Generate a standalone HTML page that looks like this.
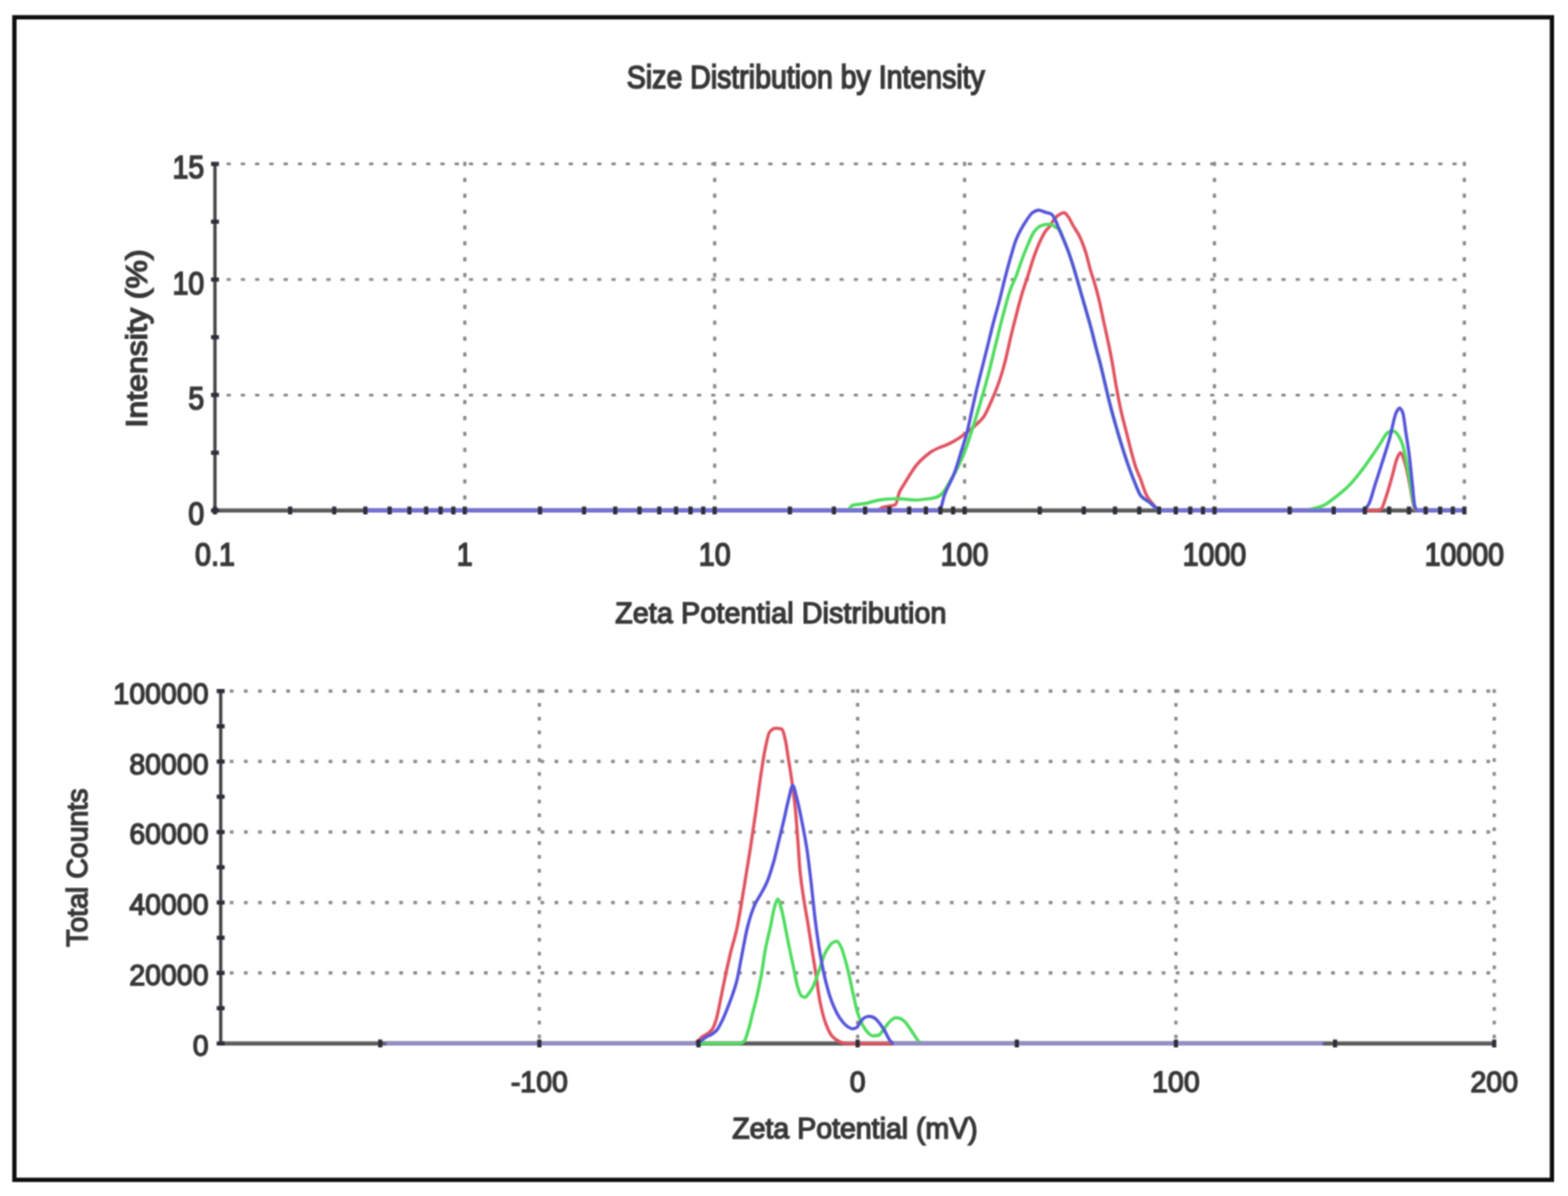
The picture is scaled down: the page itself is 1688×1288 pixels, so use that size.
<!DOCTYPE html>
<html><head><meta charset="utf-8"><title>Size and Zeta Potential Distribution</title>
<style>
html,body{margin:0;padding:0;background:#fff;width:1688px;height:1288px;overflow:hidden}
svg{display:block}
text{font-family:'Liberation Sans',Arial,sans-serif}
</style></head><body>
<svg width="1688" height="1288" viewBox="0 0 1688 1288" style="font-family:'Liberation Sans',Arial,sans-serif"><defs><filter id="soft" x="0" y="0" width="1688" height="1288" filterUnits="userSpaceOnUse" color-interpolation-filters="sRGB"><feConvolveMatrix order="3" kernelMatrix="1 2 1 2 4 2 1 2 1" divisor="16" edgeMode="duplicate" preserveAlpha="true"/></filter></defs><g filter="url(#soft)">
<rect x="0" y="0" width="1688" height="1288" fill="#fff"/>
<rect x="15.5" y="18.6" width="1655.2" height="1252" fill="none" stroke="#0d0d0d" stroke-width="4.6"/>
<line x1="243.96" y1="425.4" x2="1573.4" y2="425.4" stroke="#8a8a8a" stroke-width="3" stroke-dasharray="4.5 10.845"/>
<line x1="243.96" y1="301.0" x2="1573.4" y2="301.0" stroke="#8a8a8a" stroke-width="3" stroke-dasharray="4.5 10.845"/>
<line x1="243.96" y1="176.6" x2="1573.4" y2="176.6" stroke="#8a8a8a" stroke-width="3" stroke-dasharray="4.5 10.845"/>
<line x1="500.4" y1="174.35" x2="500.4" y2="546.8" stroke="#8a8a8a" stroke-width="3.5" stroke-dasharray="4.5 12.600"/>
<line x1="769.4" y1="174.35" x2="769.4" y2="546.8" stroke="#8a8a8a" stroke-width="3.5" stroke-dasharray="4.5 12.600"/>
<line x1="1038.4" y1="174.35" x2="1038.4" y2="546.8" stroke="#8a8a8a" stroke-width="3.5" stroke-dasharray="4.5 12.600"/>
<line x1="1307.4" y1="174.35" x2="1307.4" y2="546.8" stroke="#8a8a8a" stroke-width="3.5" stroke-dasharray="4.5 12.600"/>
<line x1="1576.4" y1="174.35" x2="1576.4" y2="546.8" stroke="#8a8a8a" stroke-width="3.5" stroke-dasharray="4.5 12.600"/>
<line x1="231.4" y1="175.6" x2="231.4" y2="550.8" stroke="#464646" stroke-width="3.6"/>
<line x1="231.4" y1="549.8" x2="1576.4" y2="549.8" stroke="#5c5c5c" stroke-width="4.4"/>
<path d="M393.4 549.8C576.9 549.8 760.5 549.8 944.0 549.8C946.0 549.8 948.0 547.1 950.0 546.5C952.7 545.7 955.3 545.6 958.0 545.0C960.0 544.6 962.0 544.5 964.0 543.5C965.4 542.8 966.9 533.2 968.3 530.0C970.1 525.9 972.0 523.7 973.8 520.6C975.9 517.2 977.9 513.7 980.0 510.5C982.3 506.9 984.7 503.2 987.0 500.4C989.6 497.3 992.1 494.9 994.7 492.6C997.3 490.3 999.9 488.0 1002.5 486.4C1005.1 484.8 1007.6 483.6 1010.2 482.5C1013.5 481.0 1016.7 480.1 1020.0 478.6C1022.4 477.5 1024.8 476.4 1027.2 475.0C1030.7 473.0 1034.2 470.6 1037.7 468.1C1041.2 465.6 1044.7 462.8 1048.2 459.7C1051.7 456.6 1055.2 453.9 1058.7 449.2C1061.5 445.5 1064.2 438.7 1067.0 432.5C1069.8 426.3 1072.6 419.5 1075.4 411.5C1077.5 405.5 1079.6 398.5 1081.7 390.6C1083.8 382.7 1085.9 372.0 1088.0 363.3C1090.1 354.6 1092.2 346.2 1094.3 338.2C1096.4 330.2 1098.5 322.1 1100.6 315.1C1102.7 308.2 1104.7 302.7 1106.8 296.3C1108.9 289.8 1111.0 282.2 1113.1 276.3C1115.3 270.1 1117.5 264.5 1119.7 259.8C1121.6 255.7 1123.6 251.7 1125.5 249.0C1127.2 246.6 1128.8 245.5 1130.5 243.2C1131.9 241.3 1133.2 238.2 1134.6 236.5C1136.3 234.4 1137.9 232.6 1139.6 231.6C1141.5 230.4 1143.5 229.1 1145.4 229.1C1147.1 229.1 1148.7 231.9 1150.4 234.0C1151.9 236.0 1153.5 239.8 1155.0 242.5C1157.5 246.9 1159.9 249.8 1162.4 254.9C1164.5 259.1 1166.5 264.6 1168.6 271.0C1170.3 276.1 1171.9 283.9 1173.6 289.7C1175.3 295.5 1176.9 300.0 1178.6 305.8C1180.2 311.5 1181.9 317.5 1183.5 324.4C1184.7 329.6 1186.0 336.1 1187.2 341.8C1188.5 347.7 1189.7 353.3 1191.0 359.2C1192.2 364.9 1193.5 370.4 1194.7 376.6C1195.7 381.8 1196.8 387.2 1197.8 393.0C1199.1 400.3 1200.4 409.2 1201.7 416.4C1203.4 426.0 1205.2 435.1 1206.9 442.8C1208.7 450.7 1210.4 456.9 1212.2 463.9C1214.0 470.9 1215.7 478.4 1217.5 485.0C1219.3 491.6 1221.0 498.4 1222.8 503.5C1224.6 508.6 1226.3 512.1 1228.1 516.7C1229.8 521.3 1231.6 527.5 1233.3 531.2C1234.4 533.5 1235.4 535.4 1236.5 537.0C1237.7 538.8 1238.8 540.2 1240.0 541.5C1243.1 544.8 1246.1 549.8 1249.2 549.8C1327.1 549.8 1405.1 549.8 1483.0 549.8C1484.3 549.8 1485.7 549.0 1487.0 548.0C1488.3 547.0 1489.7 542.1 1491.0 538.5C1493.4 532.0 1495.8 523.1 1498.2 514.8C1500.2 508.0 1502.1 497.7 1504.1 493.4C1505.3 490.8 1506.5 487.5 1507.7 487.5C1509.3 487.5 1510.8 493.5 1512.4 498.2C1514.0 503.0 1515.6 511.6 1517.2 519.5C1518.4 525.2 1519.5 533.1 1520.7 538.5C1521.6 542.8 1522.6 549.8 1523.5 549.8C1541.1 549.8 1558.8 549.8 1576.4 549.8" fill="none" stroke="#e05462" stroke-width="3.5" stroke-linejoin="round" stroke-linecap="round"/>
<path d="M393.4 549.8C566.2 549.8 739.1 549.8 912.0 549.8C914.0 549.8 916.0 544.5 918.0 544.0C922.3 542.9 926.7 543.0 931.0 542.3C936.2 541.4 941.4 539.0 946.6 538.4C953.1 537.6 959.5 536.9 966.0 536.9C972.5 536.9 978.9 538.4 985.4 538.4C990.6 538.4 995.8 537.6 1001.0 536.9C1003.3 536.6 1005.7 536.2 1008.0 535.5C1009.5 535.0 1011.1 534.1 1012.6 533.0C1016.8 529.9 1020.9 521.4 1025.1 514.2C1029.0 507.6 1032.8 500.3 1036.7 491.1C1039.8 483.7 1043.0 473.5 1046.1 463.9C1048.9 455.3 1051.7 446.1 1054.5 436.7C1057.3 427.3 1060.1 417.8 1062.9 407.3C1065.7 396.9 1068.4 384.9 1071.2 373.8C1074.0 362.6 1076.8 350.7 1079.6 340.3C1082.4 329.9 1085.2 318.7 1088.0 311.0C1090.0 305.5 1092.0 302.2 1094.0 297.1C1095.9 292.1 1097.9 285.7 1099.8 280.5C1102.0 274.6 1104.2 268.9 1106.4 263.9C1108.6 258.8 1110.9 252.6 1113.1 249.8C1115.6 246.7 1118.0 244.2 1120.5 243.2C1122.3 242.5 1124.2 242.0 1126.0 241.8C1127.8 241.6 1129.5 241.5 1131.3 241.5C1133.0 241.5 1134.6 243.9 1136.3 244.8C1137.5 245.5 1138.8 245.6 1140.0 246.5C1141.7 247.7 1143.3 254.0 1145.0 258.0C1146.7 262.0 1148.3 266.0 1150.0 270.5C1151.7 275.0 1153.3 280.2 1155.0 285.5C1156.6 290.7 1158.3 296.5 1159.9 302.1C1161.6 307.8 1163.2 313.7 1164.9 319.5C1166.6 325.3 1168.2 331.0 1169.9 336.8C1171.5 342.5 1173.2 348.1 1174.8 354.2C1176.5 360.5 1178.1 367.7 1179.8 374.1C1181.4 380.3 1183.0 385.7 1184.6 392.0C1186.3 398.9 1188.1 406.7 1189.8 414.0C1191.6 421.4 1193.3 429.1 1195.1 436.0C1197.3 444.5 1199.5 452.3 1201.7 460.0C1203.9 467.7 1206.1 475.0 1208.3 482.0C1210.5 489.0 1212.7 495.8 1214.9 502.0C1217.1 508.2 1219.3 514.0 1221.5 519.3C1223.7 524.6 1225.9 531.2 1228.1 533.8C1231.6 537.9 1235.1 539.1 1238.6 541.8C1242.1 544.5 1245.7 549.8 1249.2 549.8C1301.5 549.8 1353.7 549.8 1406.0 549.8C1407.7 549.8 1409.3 549.0 1411.0 548.5C1415.6 547.2 1420.2 546.3 1424.8 544.4C1428.8 542.7 1432.7 539.1 1436.7 536.1C1441.4 532.5 1446.2 528.9 1450.9 524.3C1455.6 519.7 1460.4 513.7 1465.1 507.7C1469.1 502.6 1473.0 496.9 1477.0 491.1C1480.1 486.5 1483.3 481.6 1486.4 476.9C1488.8 473.3 1491.1 467.9 1493.5 466.2C1495.0 465.1 1496.5 464.0 1498.0 464.0C1499.3 464.0 1500.7 464.4 1502.0 465.0C1503.3 465.6 1504.7 467.9 1506.0 470.0C1507.3 472.1 1508.7 475.0 1510.0 479.0C1512.4 486.2 1514.8 502.3 1517.2 514.8C1519.2 525.0 1521.1 544.0 1523.1 547.0C1524.1 548.5 1525.0 549.8 1526.0 549.8C1542.8 549.8 1559.6 549.8 1576.4 549.8" fill="none" stroke="#50dc60" stroke-width="3.5" stroke-linejoin="round" stroke-linecap="round"/>
<path d="M393.4 549.8C598.6 549.8 803.8 549.8 1009.0 549.8C1010.2 549.8 1011.4 548.5 1012.6 547.0C1014.0 545.3 1015.4 536.8 1016.8 533.0C1020.3 523.5 1023.7 519.1 1027.2 510.0C1029.7 503.6 1032.1 494.8 1034.6 486.9C1036.7 480.1 1038.8 474.0 1040.9 466.0C1042.6 459.4 1044.4 450.7 1046.1 443.0C1047.8 435.3 1049.6 427.2 1051.3 419.9C1053.1 412.5 1054.8 405.9 1056.6 398.9C1058.7 390.6 1060.8 382.2 1062.9 373.8C1065.0 365.5 1067.0 356.7 1069.1 348.7C1071.2 340.6 1073.3 333.6 1075.4 325.6C1077.9 316.2 1080.3 305.4 1082.8 296.0C1084.6 289.1 1086.4 282.5 1088.2 276.3C1089.9 270.5 1091.5 264.2 1093.2 259.8C1095.1 254.7 1097.1 250.9 1099.0 247.3C1101.2 243.2 1103.4 239.6 1105.6 236.5C1107.5 233.7 1109.5 230.4 1111.4 229.1C1113.6 227.6 1115.8 226.2 1118.0 226.2C1120.5 226.2 1123.0 227.9 1125.5 228.7C1127.7 229.4 1129.9 229.5 1132.1 230.7C1133.5 231.5 1134.9 234.7 1136.3 237.4C1137.5 239.8 1138.8 243.6 1140.0 246.5C1141.7 250.5 1143.3 254.0 1145.0 258.0C1146.7 262.0 1148.3 266.0 1150.0 270.5C1151.7 275.0 1153.3 280.2 1155.0 285.5C1156.6 290.7 1158.3 296.5 1159.9 302.1C1161.6 307.8 1163.2 313.7 1164.9 319.5C1166.6 325.3 1168.2 331.0 1169.9 336.8C1171.5 342.5 1173.2 348.1 1174.8 354.2C1176.5 360.5 1178.1 367.7 1179.8 374.1C1181.4 380.3 1183.0 385.7 1184.6 392.0C1186.3 398.9 1188.1 406.7 1189.8 414.0C1191.6 421.4 1193.3 429.1 1195.1 436.0C1197.3 444.5 1199.5 452.3 1201.7 460.0C1203.9 467.7 1206.1 475.0 1208.3 482.0C1210.5 489.0 1212.7 495.8 1214.9 502.0C1217.1 508.2 1219.3 514.0 1221.5 519.3C1223.7 524.6 1225.9 531.2 1228.1 533.8C1231.6 537.9 1235.1 539.1 1238.6 541.8C1242.1 544.5 1245.7 549.8 1249.2 549.8C1321.1 549.8 1393.1 549.8 1465.0 549.8C1466.5 549.8 1468.0 548.9 1469.5 548.0C1470.8 547.2 1472.1 545.4 1473.4 543.2C1475.6 539.5 1477.8 529.8 1480.0 523.0C1482.1 516.4 1484.3 509.8 1486.4 503.0C1489.6 492.8 1492.8 483.4 1496.0 472.0C1498.3 463.7 1500.7 449.1 1503.0 444.5C1504.2 442.2 1505.4 439.5 1506.6 439.5C1507.7 439.5 1508.9 441.5 1510.0 444.0C1511.2 446.5 1512.3 458.4 1513.5 466.0C1514.7 474.0 1516.0 481.3 1517.2 491.0C1518.3 499.7 1519.4 512.0 1520.5 522.0C1521.4 529.9 1522.2 542.6 1523.1 545.0C1524.1 547.7 1525.0 549.8 1526.0 549.8C1542.8 549.8 1559.6 549.8 1576.4 549.8" fill="none" stroke="#5656da" stroke-width="3.5" stroke-linejoin="round" stroke-linecap="round"/>
<line x1="393.4" y1="549.8" x2="1010.0" y2="549.8" stroke="#7472d6" stroke-width="4.6"/>
<line x1="1249.0" y1="549.8" x2="1466.0" y2="549.8" stroke="#7472d6" stroke-width="4.6"/>
<line x1="1525.0" y1="549.8" x2="1576.4" y2="549.8" stroke="#7472d6" stroke-width="4.6"/>
<rect x="227.2" y="547.5" width="8.5" height="4.5" fill="#2e2e3a"/>
<rect x="227.2" y="485.3" width="8.5" height="4.5" fill="#2e2e3a"/>
<rect x="227.2" y="423.1" width="8.5" height="4.5" fill="#2e2e3a"/>
<rect x="227.2" y="360.9" width="8.5" height="4.5" fill="#2e2e3a"/>
<rect x="227.2" y="298.8" width="8.5" height="4.5" fill="#2e2e3a"/>
<rect x="227.2" y="236.5" width="8.5" height="4.5" fill="#2e2e3a"/>
<rect x="227.2" y="174.3" width="8.5" height="4.5" fill="#2e2e3a"/>
<rect x="229.2" y="545.5" width="4.5" height="8.5" fill="#2e2e3a"/>
<rect x="310.1" y="545.5" width="4.5" height="8.5" fill="#2e2e3a"/>
<rect x="357.5" y="545.5" width="4.5" height="8.5" fill="#2e2e3a"/>
<rect x="391.1" y="545.5" width="4.5" height="8.5" fill="#2e2e3a"/>
<rect x="417.2" y="545.5" width="4.5" height="8.5" fill="#2e2e3a"/>
<rect x="438.5" y="545.5" width="4.5" height="8.5" fill="#2e2e3a"/>
<rect x="456.5" y="545.5" width="4.5" height="8.5" fill="#2e2e3a"/>
<rect x="472.1" y="545.5" width="4.5" height="8.5" fill="#2e2e3a"/>
<rect x="485.8" y="545.5" width="4.5" height="8.5" fill="#2e2e3a"/>
<rect x="498.1" y="545.5" width="4.5" height="8.5" fill="#2e2e3a"/>
<rect x="579.1" y="545.5" width="4.5" height="8.5" fill="#2e2e3a"/>
<rect x="626.5" y="545.5" width="4.5" height="8.5" fill="#2e2e3a"/>
<rect x="660.1" y="545.5" width="4.5" height="8.5" fill="#2e2e3a"/>
<rect x="686.2" y="545.5" width="4.5" height="8.5" fill="#2e2e3a"/>
<rect x="707.5" y="545.5" width="4.5" height="8.5" fill="#2e2e3a"/>
<rect x="725.5" y="545.5" width="4.5" height="8.5" fill="#2e2e3a"/>
<rect x="741.1" y="545.5" width="4.5" height="8.5" fill="#2e2e3a"/>
<rect x="754.8" y="545.5" width="4.5" height="8.5" fill="#2e2e3a"/>
<rect x="767.1" y="545.5" width="4.5" height="8.5" fill="#2e2e3a"/>
<rect x="848.1" y="545.5" width="4.5" height="8.5" fill="#2e2e3a"/>
<rect x="895.5" y="545.5" width="4.5" height="8.5" fill="#2e2e3a"/>
<rect x="929.1" y="545.5" width="4.5" height="8.5" fill="#2e2e3a"/>
<rect x="955.2" y="545.5" width="4.5" height="8.5" fill="#2e2e3a"/>
<rect x="976.5" y="545.5" width="4.5" height="8.5" fill="#2e2e3a"/>
<rect x="994.5" y="545.5" width="4.5" height="8.5" fill="#2e2e3a"/>
<rect x="1010.1" y="545.5" width="4.5" height="8.5" fill="#2e2e3a"/>
<rect x="1023.8" y="545.5" width="4.5" height="8.5" fill="#2e2e3a"/>
<rect x="1036.2" y="545.5" width="4.5" height="8.5" fill="#2e2e3a"/>
<rect x="1117.1" y="545.5" width="4.5" height="8.5" fill="#2e2e3a"/>
<rect x="1164.5" y="545.5" width="4.5" height="8.5" fill="#2e2e3a"/>
<rect x="1198.1" y="545.5" width="4.5" height="8.5" fill="#2e2e3a"/>
<rect x="1224.2" y="545.5" width="4.5" height="8.5" fill="#2e2e3a"/>
<rect x="1245.5" y="545.5" width="4.5" height="8.5" fill="#2e2e3a"/>
<rect x="1263.5" y="545.5" width="4.5" height="8.5" fill="#2e2e3a"/>
<rect x="1279.1" y="545.5" width="4.5" height="8.5" fill="#2e2e3a"/>
<rect x="1292.8" y="545.5" width="4.5" height="8.5" fill="#2e2e3a"/>
<rect x="1305.2" y="545.5" width="4.5" height="8.5" fill="#2e2e3a"/>
<rect x="1386.1" y="545.5" width="4.5" height="8.5" fill="#2e2e3a"/>
<rect x="1433.5" y="545.5" width="4.5" height="8.5" fill="#2e2e3a"/>
<rect x="1467.1" y="545.5" width="4.5" height="8.5" fill="#2e2e3a"/>
<rect x="1493.2" y="545.5" width="4.5" height="8.5" fill="#2e2e3a"/>
<rect x="1514.5" y="545.5" width="4.5" height="8.5" fill="#2e2e3a"/>
<rect x="1532.5" y="545.5" width="4.5" height="8.5" fill="#2e2e3a"/>
<rect x="1548.1" y="545.5" width="4.5" height="8.5" fill="#2e2e3a"/>
<rect x="1561.8" y="545.5" width="4.5" height="8.5" fill="#2e2e3a"/>
<rect x="1574.2" y="545.5" width="4.5" height="8.5" fill="#2e2e3a"/>
<text transform="translate(867.5 94.5) scale(1 1.125)" text-anchor="middle" font-size="30.7" fill="#383838" stroke="#383838" stroke-width="1.50">Size Distribution by Intensity</text>
<text transform="translate(219.8 565.3) scale(1 1.125)" text-anchor="end" font-size="30.7" fill="#383838" stroke="#383838" stroke-width="1.50">0</text>
<text transform="translate(219.8 440.9) scale(1 1.125)" text-anchor="end" font-size="30.7" fill="#383838" stroke="#383838" stroke-width="1.50">5</text>
<text transform="translate(219.8 316.5) scale(1 1.125)" text-anchor="end" font-size="30.7" fill="#383838" stroke="#383838" stroke-width="1.50">10</text>
<text transform="translate(219.8 192.1) scale(1 1.125)" text-anchor="end" font-size="30.7" fill="#383838" stroke="#383838" stroke-width="1.50">15</text>
<text transform="translate(231.4 608.5) scale(1 1.125)" text-anchor="middle" font-size="30.7" fill="#383838" stroke="#383838" stroke-width="1.50">0.1</text>
<text transform="translate(500.4 608.5) scale(1 1.125)" text-anchor="middle" font-size="30.7" fill="#383838" stroke="#383838" stroke-width="1.50">1</text>
<text transform="translate(769.4 608.5) scale(1 1.125)" text-anchor="middle" font-size="30.7" fill="#383838" stroke="#383838" stroke-width="1.50">10</text>
<text transform="translate(1038.4 608.5) scale(1 1.125)" text-anchor="middle" font-size="30.7" fill="#383838" stroke="#383838" stroke-width="1.50">100</text>
<text transform="translate(1307.4 608.5) scale(1 1.125)" text-anchor="middle" font-size="30.7" fill="#383838" stroke="#383838" stroke-width="1.50">1000</text>
<text transform="translate(1576.4 608.5) scale(1 1.125)" text-anchor="middle" font-size="30.7" fill="#383838" stroke="#383838" stroke-width="1.50">10000</text>
<text transform="translate(157.5 364.5) scale(1 1.125) rotate(-90)" text-anchor="middle" font-size="30.7" fill="#383838" stroke="#383838" stroke-width="1.50">Intensity (%)</text>
<line x1="247.40" y1="1047.8" x2="1605.6" y2="1047.8" stroke="#8a8a8a" stroke-width="3.5" stroke-dasharray="4 11.200"/>
<line x1="247.40" y1="971.9" x2="1605.6" y2="971.9" stroke="#8a8a8a" stroke-width="3.5" stroke-dasharray="4 11.200"/>
<line x1="247.40" y1="896.0" x2="1605.6" y2="896.0" stroke="#8a8a8a" stroke-width="3.5" stroke-dasharray="4 11.200"/>
<line x1="247.40" y1="820.1" x2="1605.6" y2="820.1" stroke="#8a8a8a" stroke-width="3.5" stroke-dasharray="4 11.200"/>
<line x1="247.40" y1="744.2" x2="1605.6" y2="744.2" stroke="#8a8a8a" stroke-width="3.5" stroke-dasharray="4 11.200"/>
<line x1="580.6" y1="742.20" x2="580.6" y2="1120.7" stroke="#8a8a8a" stroke-width="3.5" stroke-dasharray="4 10.880"/>
<line x1="923.3" y1="742.20" x2="923.3" y2="1120.7" stroke="#8a8a8a" stroke-width="3.5" stroke-dasharray="4 10.880"/>
<line x1="1265.9" y1="742.20" x2="1265.9" y2="1120.7" stroke="#8a8a8a" stroke-width="3.5" stroke-dasharray="4 10.880"/>
<line x1="1608.6" y1="742.20" x2="1608.6" y2="1120.7" stroke="#8a8a8a" stroke-width="3.5" stroke-dasharray="4 10.880"/>
<line x1="237.6" y1="743.2" x2="237.6" y2="1124.7" stroke="#464646" stroke-width="3.6"/>
<line x1="237.6" y1="1123.7" x2="1608.6" y2="1123.7" stroke="#5c5c5c" stroke-width="4.4"/>
<path d="M416.2 1123.7C526.1 1123.7 636.1 1123.7 746.0 1123.7C747.9 1123.7 749.7 1122.2 751.6 1121.0C753.1 1120.0 754.5 1117.6 756.0 1116.5C758.0 1115.0 760.0 1114.5 762.0 1113.0C763.7 1111.8 765.3 1110.4 767.0 1108.0C768.3 1106.1 769.7 1102.3 771.0 1098.0C772.3 1093.7 773.7 1086.3 775.0 1080.0C776.3 1073.7 777.7 1066.4 779.0 1060.0C781.3 1048.8 783.7 1037.8 786.0 1028.0C788.5 1017.4 791.1 1010.4 793.6 998.6C796.0 987.6 798.3 971.7 800.7 957.5C803.1 943.1 805.5 928.4 807.9 912.9C809.7 901.5 811.4 889.5 813.2 877.1C815.0 864.5 816.8 849.8 818.6 837.9C820.4 826.2 822.1 813.9 823.9 805.7C825.4 798.7 826.9 790.3 828.4 788.5C830.5 786.0 832.5 784.3 834.6 784.3C837.0 784.3 839.4 784.6 841.8 785.2C843.0 785.5 844.2 791.7 845.4 796.8C846.6 801.7 847.7 810.9 848.9 818.2C850.1 825.7 851.3 832.9 852.5 841.4C853.7 849.9 854.9 858.2 856.1 870.0C857.0 878.9 857.9 892.1 858.8 903.9C859.7 915.3 860.5 931.1 861.4 939.6C862.6 951.4 863.8 958.4 865.0 966.4C866.8 978.4 868.6 987.4 870.4 998.6C871.8 1007.3 873.2 1016.7 874.6 1025.6C875.9 1033.8 877.2 1041.5 878.5 1050.0C879.9 1058.9 881.2 1071.2 882.6 1078.0C884.8 1089.0 887.0 1097.3 889.2 1103.0C891.4 1108.7 893.7 1113.6 895.9 1116.0C898.7 1119.0 901.4 1120.9 904.2 1122.0C906.1 1122.8 908.1 1123.7 910.0 1123.7C1081.2 1123.7 1252.4 1123.7 1423.6 1123.7" fill="none" stroke="#e05462" stroke-width="3.5" stroke-linejoin="round" stroke-linecap="round"/>
<path d="M416.2 1123.7C543.1 1123.7 670.1 1123.7 797.0 1123.7C798.4 1123.7 799.9 1122.5 801.3 1121.0C802.9 1119.4 804.4 1113.1 806.0 1108.0C807.5 1103.1 809.0 1095.9 810.5 1090.0C811.9 1084.6 813.2 1079.9 814.6 1074.0C816.3 1066.8 817.9 1059.1 819.6 1050.0C821.1 1041.9 822.5 1029.7 824.0 1022.0C825.8 1012.7 827.5 1006.8 829.3 998.6C830.7 992.1 832.1 982.7 833.5 978.0C834.8 973.7 836.0 968.2 837.3 968.2C838.7 968.2 840.1 975.0 841.5 980.0C842.8 984.6 844.1 992.2 845.4 998.6C846.9 1006.1 848.5 1014.5 850.0 1022.0C851.5 1029.3 853.0 1035.9 854.5 1043.0C855.8 1049.3 857.2 1057.6 858.5 1062.0C859.9 1066.6 861.3 1071.6 862.7 1072.5C864.0 1073.4 865.2 1074.0 866.5 1074.0C867.8 1074.0 869.2 1071.6 870.5 1070.0C871.9 1068.4 873.2 1066.4 874.6 1063.9C876.1 1061.2 877.5 1056.9 879.0 1053.0C880.5 1049.1 881.9 1044.6 883.4 1040.3C884.8 1036.3 886.1 1031.0 887.5 1028.0C889.1 1024.5 890.7 1021.9 892.3 1019.7C893.7 1017.8 895.1 1015.6 896.5 1015.0C898.0 1014.3 899.6 1013.8 901.1 1013.8C902.6 1013.8 904.0 1017.2 905.5 1020.0C907.0 1022.9 908.5 1028.8 910.0 1034.0C911.5 1039.2 913.0 1045.5 914.5 1052.0C915.9 1058.2 917.4 1065.6 918.8 1072.0C920.2 1078.2 921.6 1085.5 923.0 1090.0C924.6 1095.0 926.1 1098.9 927.7 1102.0C929.5 1105.5 931.2 1108.6 933.0 1110.5C935.2 1112.8 937.3 1115.5 939.5 1115.5C941.5 1115.5 943.6 1115.3 945.6 1115.0C947.1 1114.8 948.5 1112.2 950.0 1110.5C951.4 1108.8 952.9 1106.3 954.3 1104.5C955.9 1102.5 957.4 1100.3 959.0 1099.0C960.6 1097.7 962.3 1096.0 963.9 1096.0C965.4 1096.0 967.0 1096.2 968.5 1096.5C970.3 1096.8 972.0 1098.5 973.8 1100.0C975.4 1101.4 976.9 1103.8 978.5 1106.0C980.3 1108.4 982.0 1111.5 983.8 1114.0C986.0 1117.1 988.2 1121.6 990.4 1122.5C991.9 1123.1 993.5 1123.7 995.0 1123.7C1137.9 1123.7 1280.7 1123.7 1423.6 1123.7" fill="none" stroke="#50dc60" stroke-width="3.5" stroke-linejoin="round" stroke-linecap="round"/>
<path d="M416.2 1123.7C526.8 1123.7 637.4 1123.7 748.0 1123.7C749.9 1123.7 751.7 1122.4 753.6 1121.5C755.7 1120.4 757.9 1118.2 760.0 1117.0C762.0 1115.8 764.0 1115.2 766.0 1114.0C767.8 1112.9 769.7 1111.5 771.5 1109.5C773.7 1107.1 775.8 1102.4 778.0 1098.0C780.2 1093.4 782.5 1087.4 784.7 1081.6C786.1 1077.9 787.6 1074.2 789.0 1070.0C790.3 1066.1 791.7 1062.2 793.0 1057.0C794.7 1050.5 796.3 1040.4 798.0 1032.0C800.1 1021.4 802.2 1008.7 804.3 1000.0C805.7 994.2 807.1 989.2 808.5 985.0C810.1 980.3 811.6 976.3 813.2 973.0C815.3 968.6 817.4 965.9 819.5 962.0C821.6 958.2 823.6 954.9 825.7 950.0C828.1 944.3 830.5 936.4 832.9 928.0C834.7 921.8 836.4 913.7 838.2 906.5C840.0 899.1 841.8 891.9 843.6 884.3C845.4 876.8 847.1 867.7 848.9 861.0C850.4 855.3 851.9 846.0 853.4 846.0C854.9 846.0 856.4 854.5 857.9 860.0C859.7 866.5 861.4 875.5 863.2 884.3C865.0 893.3 866.8 902.3 868.6 914.0C870.1 923.6 871.5 936.2 873.0 948.6C874.5 961.3 876.0 978.1 877.5 990.0C879.3 1004.5 881.2 1017.5 883.0 1028.0C885.1 1039.8 887.1 1049.9 889.2 1058.0C891.4 1066.7 893.7 1074.3 895.9 1079.9C898.7 1086.8 901.4 1092.6 904.2 1096.5C906.9 1100.4 909.7 1103.8 912.4 1105.5C914.3 1106.7 916.1 1108.0 918.0 1108.0C919.5 1108.0 920.9 1107.3 922.4 1106.5C923.6 1105.8 924.8 1102.6 926.0 1101.0C927.5 1099.1 929.0 1096.7 930.5 1096.0C932.2 1095.2 934.0 1094.5 935.7 1094.5C937.1 1094.5 938.6 1095.0 940.0 1095.5C941.3 1096.0 942.7 1097.2 944.0 1098.5C945.3 1099.8 946.7 1101.7 948.0 1103.5C949.4 1105.5 950.9 1107.7 952.3 1110.0C954.5 1113.5 956.7 1119.6 958.9 1121.4C960.3 1122.5 961.6 1123.7 963.0 1123.7C1116.5 1123.7 1270.0 1123.7 1423.6 1123.7" fill="none" stroke="#5656da" stroke-width="3.5" stroke-linejoin="round" stroke-linecap="round"/>
<line x1="416.2" y1="1123.7" x2="749.0" y2="1123.7" stroke="#928ec6" stroke-width="4.6"/>
<line x1="962.0" y1="1123.7" x2="1423.6" y2="1123.7" stroke="#928ec6" stroke-width="4.6"/>
<rect x="233.3" y="1121.5" width="8.5" height="4.5" fill="#2e2e3a"/>
<rect x="233.3" y="1083.5" width="8.5" height="4.5" fill="#2e2e3a"/>
<rect x="233.3" y="1045.5" width="8.5" height="4.5" fill="#2e2e3a"/>
<rect x="233.3" y="1007.6" width="8.5" height="4.5" fill="#2e2e3a"/>
<rect x="233.3" y="969.7" width="8.5" height="4.5" fill="#2e2e3a"/>
<rect x="233.3" y="931.7" width="8.5" height="4.5" fill="#2e2e3a"/>
<rect x="233.3" y="893.8" width="8.5" height="4.5" fill="#2e2e3a"/>
<rect x="233.3" y="855.8" width="8.5" height="4.5" fill="#2e2e3a"/>
<rect x="233.3" y="817.9" width="8.5" height="4.5" fill="#2e2e3a"/>
<rect x="233.3" y="779.9" width="8.5" height="4.5" fill="#2e2e3a"/>
<rect x="233.3" y="742.0" width="8.5" height="4.5" fill="#2e2e3a"/>
<rect x="407.1" y="1119.5" width="4.5" height="8.5" fill="#2e2e3a"/>
<rect x="578.4" y="1119.5" width="4.5" height="8.5" fill="#2e2e3a"/>
<rect x="749.7" y="1119.5" width="4.5" height="8.5" fill="#2e2e3a"/>
<rect x="921.0" y="1119.5" width="4.5" height="8.5" fill="#2e2e3a"/>
<rect x="1092.4" y="1119.5" width="4.5" height="8.5" fill="#2e2e3a"/>
<rect x="1263.7" y="1119.5" width="4.5" height="8.5" fill="#2e2e3a"/>
<rect x="1435.0" y="1119.5" width="4.5" height="8.5" fill="#2e2e3a"/>
<rect x="1606.3" y="1119.5" width="4.5" height="8.5" fill="#2e2e3a"/>
<text transform="translate(840.7 671.0)" text-anchor="middle" font-size="30.7" fill="#383838" stroke="#383838" stroke-width="1.50" letter-spacing="0.2">Zeta Potential Distribution</text>
<text transform="translate(224.5 1137.1)" text-anchor="end" font-size="30.7" fill="#383838" stroke="#383838" stroke-width="1.50">0</text>
<text transform="translate(224.5 1061.2)" text-anchor="end" font-size="30.7" fill="#383838" stroke="#383838" stroke-width="1.50">20000</text>
<text transform="translate(224.5 985.3)" text-anchor="end" font-size="30.7" fill="#383838" stroke="#383838" stroke-width="1.50">40000</text>
<text transform="translate(224.5 909.4)" text-anchor="end" font-size="30.7" fill="#383838" stroke="#383838" stroke-width="1.50">60000</text>
<text transform="translate(224.5 833.5)" text-anchor="end" font-size="30.7" fill="#383838" stroke="#383838" stroke-width="1.50">80000</text>
<text transform="translate(224.5 757.6)" text-anchor="end" font-size="30.7" fill="#383838" stroke="#383838" stroke-width="1.50">100000</text>
<text transform="translate(580.6 1175.7)" text-anchor="middle" font-size="30.7" fill="#383838" stroke="#383838" stroke-width="1.50">-100</text>
<text transform="translate(923.3 1175.7)" text-anchor="middle" font-size="30.7" fill="#383838" stroke="#383838" stroke-width="1.50">0</text>
<text transform="translate(1265.9 1175.7)" text-anchor="middle" font-size="30.7" fill="#383838" stroke="#383838" stroke-width="1.50">100</text>
<text transform="translate(1608.6 1175.7)" text-anchor="middle" font-size="30.7" fill="#383838" stroke="#383838" stroke-width="1.50">200</text>
<text transform="translate(920.4 1225.5)" text-anchor="middle" font-size="30.7" fill="#383838" stroke="#383838" stroke-width="1.50">Zeta Potential (mV)</text>
<text transform="translate(94.0 934.4) rotate(-90)" text-anchor="middle" font-size="30.7" fill="#383838" stroke="#383838" stroke-width="1.50">Total Counts</text></g></svg>
</body></html>
